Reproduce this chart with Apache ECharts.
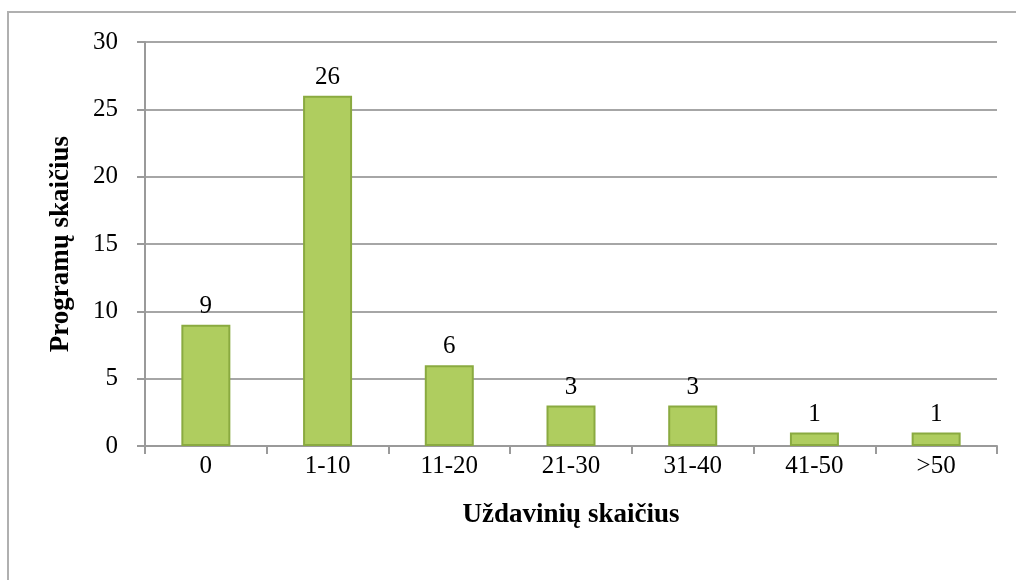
<!DOCTYPE html>
<html>
<head>
<meta charset="utf-8">
<script src="https://cdn.jsdelivr.net/npm/echarts@6/dist/echarts.min.js"></script>
<style>
  html, body { margin: 0; padding: 0; background: #fff; }
  #frame { position: absolute; left: 7px; top: 11px; width: 1100px; height: 700px;
           border-left: 2px solid #b0b0b0; border-top: 2px solid #b0b0b0; }
  #chart { position: absolute; left: 0; top: 0; width: 1016px; height: 580px; }
</style>
</head>
<body>
<div id="frame"></div>
<div id="chart"></div>
<script>
const categories = ['0', '1-10', '11-20', '21-30', '31-40', '41-50', '>50'];
const programCounts = [9, 26, 6, 3, 3, 1, 1];
const xTitle = 'Uždavinių skaičius';
const yTitle = 'Programų skaičius';

const font = '"Liberation Serif", "Times New Roman", serif';
const chart = echarts.init(document.getElementById('chart'));

chart.setOption({
  animation: false,
  grid: { left: 145, top: 42, right: 19, bottom: 134 },
  xAxis: {
    type: 'category',
    data: categories,
    name: xTitle,
    nameLocation: 'middle',
    nameGap: 56,
    nameTextStyle: { fontFamily: font, fontSize: 27, fontWeight: 'bold', color: '#000' },
    axisLine: { lineStyle: { color: '#9a9a9a', width: 2 } },
    axisTick: { show: true, length: 8, lineStyle: { color: '#9a9a9a', width: 2 } },
    axisLabel: { fontFamily: font, fontSize: 25, color: '#000', margin: 8 }
  },
  yAxis: {
    type: 'value',
    min: 0,
    max: 30,
    interval: 5,
    name: yTitle,
    nameLocation: 'middle',
    nameGap: 70,
    nameRotate: 90,
    nameTextStyle: { fontFamily: font, fontSize: 27, fontWeight: 'bold', color: '#000' },
    axisLine: { show: true, lineStyle: { color: '#9a9a9a', width: 2 } },
    axisTick: { show: true, length: 8, lineStyle: { color: '#9a9a9a', width: 2 } },
    axisLabel: { fontFamily: font, fontSize: 25, color: '#000', margin: 27 },
    splitLine: { lineStyle: { color: '#a6a6a6', width: 2 } }
  },
  series: [{
    type: 'bar',
    data: programCounts,
    barWidth: 49,
    itemStyle: { color: '#afcd5f', borderColor: '#8aaa40', borderWidth: 2 },
    label: {
      show: true,
      position: 'top',
      distance: 6,
      fontFamily: font,
      fontSize: 25,
      color: '#000'
    }
  }]
});
</script>
</body>
</html>
